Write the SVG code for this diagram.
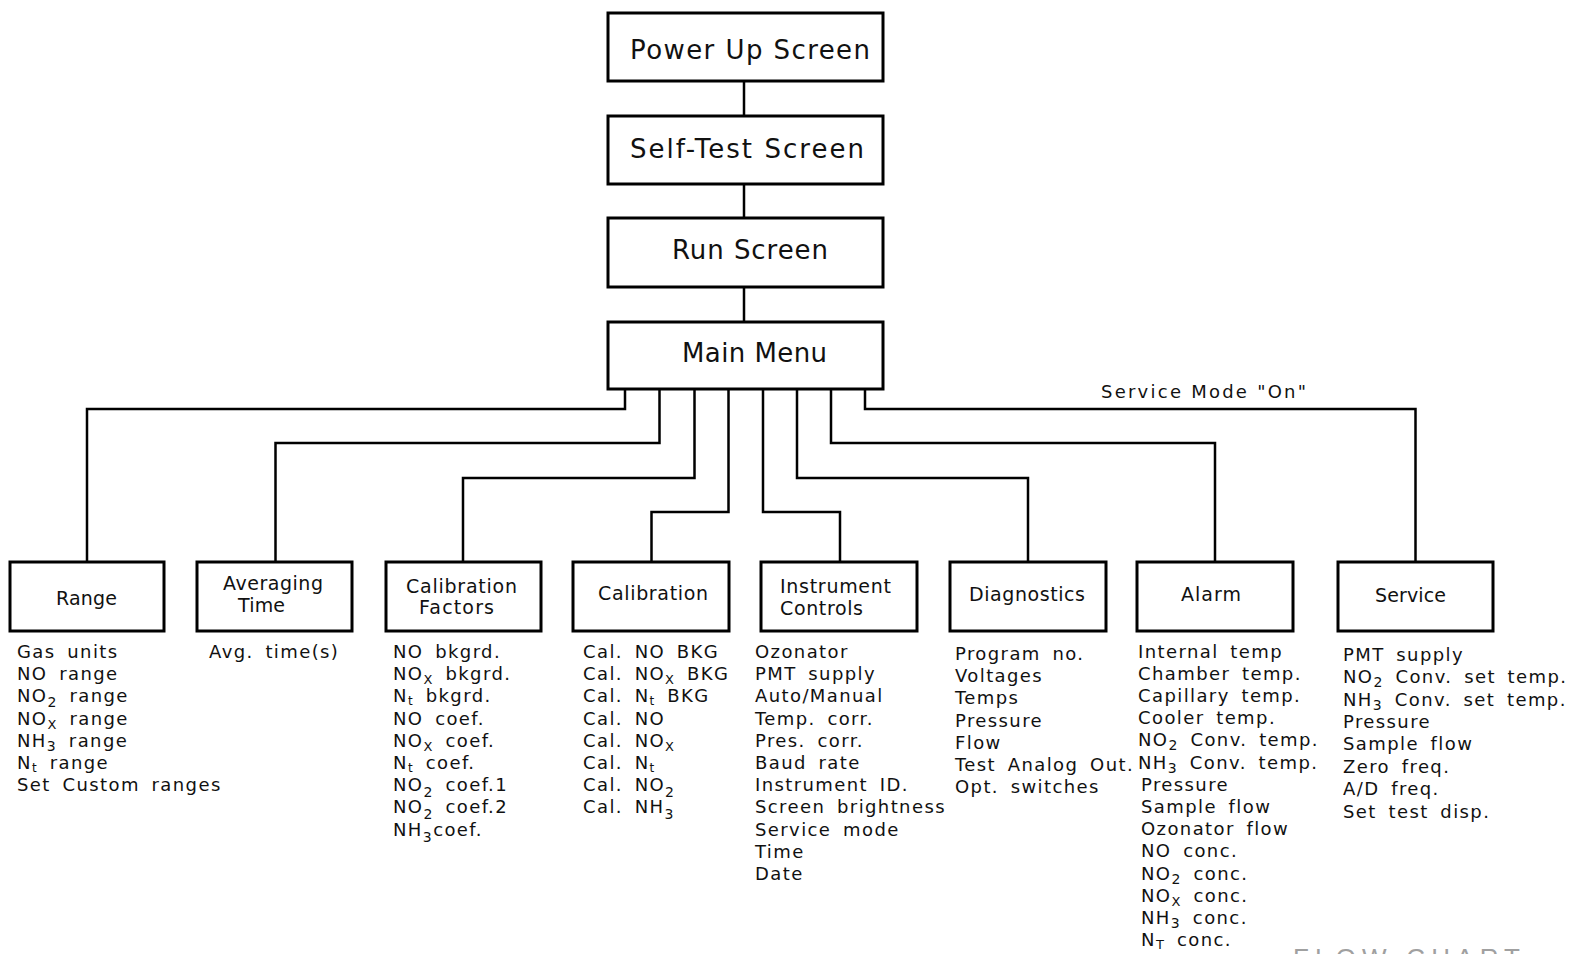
<svg xmlns="http://www.w3.org/2000/svg" width="1572" height="954" viewBox="0 0 1572 954">
<style>
.box{fill:#fff;stroke:#000;stroke-width:3}
.con{fill:none;stroke:#000;stroke-width:2.5;stroke-linejoin:miter;stroke-linecap:square}
.t{font-family:"DejaVu Sans",sans-serif;fill:#111}
.big{font-size:26px}
.lbl{font-size:19px}
.lst{font-size:18px;letter-spacing:1.4px;word-spacing:4.6px}
.note{font-size:18px}
.fc{font-family:"Liberation Sans",sans-serif;font-size:26px;fill:#a0a0a0}
</style>
<rect width="1572" height="954" fill="#fff"/>
<g id="connectors">
<path class="con" d="M744 81V116M744 184V218M744 287V322"/>
<path class="con" d="M625 389V409H87V562"/>
<path class="con" d="M659.5 389V443H275.5V562"/>
<path class="con" d="M694.5 389V478H463V562"/>
<path class="con" d="M728.5 389V512H651.5V562"/>
<path class="con" d="M763 389V512H840V562"/>
<path class="con" d="M797 389V478H1028V562"/>
<path class="con" d="M831 389V443H1215V562"/>
<path class="con" d="M865 389V409H1415.5V562"/>
<text class="t note" x="1101" y="398" textLength="205" lengthAdjust="spacing">Service Mode "On"</text>
</g>
<g id="power-up">
<rect class="box" x="608" y="13" width="275" height="68"/>
<text class="t big" x="630" y="59" textLength="240" lengthAdjust="spacing">Power Up Screen</text>
</g>
<g id="self-test">
<rect class="box" x="608" y="116" width="275" height="68"/>
<text class="t big" x="630" y="158" textLength="234" lengthAdjust="spacing">Self-Test Screen</text>
</g>
<g id="run-screen">
<rect class="box" x="608" y="218" width="275" height="69"/>
<text class="t big" x="672" y="259" textLength="156" lengthAdjust="spacing">Run Screen</text>
</g>
<g id="main-menu">
<rect class="box" x="608" y="322" width="275" height="67"/>
<text class="t big" x="682" y="362" textLength="145" lengthAdjust="spacing">Main Menu</text>
</g>
<g id="range">
<rect class="box" x="10" y="562" width="154" height="69"/>
<text class="t lbl" x="56" y="605" textLength="61" lengthAdjust="spacing">Range</text>
<g class="t lst">
<text x="17" y="658">Gas units</text>
<text x="17" y="680.2">NO range</text>
<text x="17" y="702.4">NO<tspan dy="5" font-size="14">2</tspan><tspan dy="-5"> range</tspan></text>
<text x="17" y="724.6">NO<tspan dy="4" font-size="13">X</tspan><tspan dy="-4"> range</tspan></text>
<text x="17" y="746.8">NH<tspan dy="4" font-size="14">3</tspan><tspan dy="-4"> range</tspan></text>
<text x="17" y="769">N<tspan dy="3" font-size="12">t</tspan><tspan dy="-3"> range</tspan></text>
<text x="17" y="791.2">Set Custom ranges</text>
</g>
</g>
<g id="averaging-time">
<rect class="box" x="197" y="562" width="155" height="69"/>
<text class="t lbl" x="223" y="590" textLength="100" lengthAdjust="spacing">Averaging</text>
<text class="t lbl" x="238" y="611.5" textLength="47" lengthAdjust="spacing">Time</text>
<text class="t lst" x="209" y="658">Avg. time(s)</text>
</g>
<g id="calibration-factors">
<rect class="box" x="386" y="562" width="155" height="69"/>
<text class="t lbl" x="406" y="592.5" textLength="111" lengthAdjust="spacing">Calibration</text>
<text class="t lbl" x="419" y="614" textLength="75" lengthAdjust="spacing">Factors</text>
<g class="t lst">
<text x="393" y="658">NO bkgrd.</text>
<text x="393" y="680.2">NO<tspan dy="4" font-size="13">X</tspan><tspan dy="-4"> bkgrd.</tspan></text>
<text x="393" y="702.4">N<tspan dy="3" font-size="12">t</tspan><tspan dy="-3"> bkgrd.</tspan></text>
<text x="393" y="724.6">NO coef.</text>
<text x="393" y="746.8">NO<tspan dy="4" font-size="13">X</tspan><tspan dy="-4"> coef.</tspan></text>
<text x="393" y="769">N<tspan dy="3" font-size="12">t</tspan><tspan dy="-3"> coef.</tspan></text>
<text x="393" y="791.2">NO<tspan dy="6" font-size="14">2</tspan><tspan dy="-6"> coef.1</tspan></text>
<text x="393" y="813.4">NO<tspan dy="6" font-size="14">2</tspan><tspan dy="-6"> coef.2</tspan></text>
<text x="393" y="835.6">NH<tspan dy="6" font-size="14">3</tspan><tspan dy="-6">coef.</tspan></text>
</g>
</g>
<g id="calibration">
<rect class="box" x="573" y="562" width="156" height="69"/>
<text class="t lbl" x="598" y="600" textLength="110" lengthAdjust="spacing">Calibration</text>
<g class="t lst">
<text x="583" y="658">Cal. NO BKG</text>
<text x="583" y="680.2">Cal. NO<tspan dy="4" font-size="13">X</tspan><tspan dy="-4"> BKG</tspan></text>
<text x="583" y="702.4">Cal. N<tspan dy="3" font-size="12">t</tspan><tspan dy="-3"> BKG</tspan></text>
<text x="583" y="724.6">Cal. NO</text>
<text x="583" y="746.8">Cal. NO<tspan dy="4" font-size="13">X</tspan></text>
<text x="583" y="769">Cal. N<tspan dy="3" font-size="12">t</tspan></text>
<text x="583" y="791.2">Cal. NO<tspan dy="6" font-size="14">2</tspan></text>
<text x="583" y="813.4">Cal. NH<tspan dy="6" font-size="14">3</tspan></text>
</g>
</g>
<g id="instrument-controls">
<rect class="box" x="761" y="562" width="156" height="69"/>
<text class="t lbl" x="780" y="593.3" textLength="111" lengthAdjust="spacing">Instrument</text>
<text class="t lbl" x="780" y="615" textLength="83" lengthAdjust="spacing">Controls</text>
<g class="t lst">
<text x="755" y="658">Ozonator</text>
<text x="755" y="680.2">PMT supply</text>
<text x="755" y="702.4">Auto/Manual</text>
<text x="755" y="724.6">Temp. corr.</text>
<text x="755" y="746.8">Pres. corr.</text>
<text x="755" y="769">Baud rate</text>
<text x="755" y="791.2">Instrument ID.</text>
<text x="755" y="813.4">Screen brightness</text>
<text x="755" y="835.6">Service mode</text>
<text x="755" y="857.8">Time</text>
<text x="755" y="880">Date</text>
</g>
</g>
<g id="diagnostics">
<rect class="box" x="950" y="562" width="156" height="69"/>
<text class="t lbl" x="969" y="600.7" textLength="116" lengthAdjust="spacing">Diagnostics</text>
<g class="t lst">
<text x="955" y="660">Program no.</text>
<text x="955" y="682.2">Voltages</text>
<text x="955" y="704.4">Temps</text>
<text x="955" y="726.6">Pressure</text>
<text x="955" y="748.8">Flow</text>
<text x="955" y="771">Test Analog Out.</text>
<text x="955" y="793.2">Opt. switches</text>
</g>
</g>
<g id="alarm">
<rect class="box" x="1137" y="562" width="156" height="69"/>
<text class="t lbl" x="1181" y="600.7" textLength="60" lengthAdjust="spacing">Alarm</text>
<g class="t lst">
<text x="1138" y="657.5">Internal temp</text>
<text x="1138" y="679.7">Chamber temp.</text>
<text x="1138" y="701.9">Capillary temp.</text>
<text x="1138" y="724.1">Cooler temp.</text>
<text x="1138" y="746.3">NO<tspan dy="4" font-size="14">2</tspan><tspan dy="-4"> Conv. temp.</tspan></text>
<text x="1138" y="768.5">NH<tspan dy="4" font-size="14">3</tspan><tspan dy="-4"> Conv. temp.</tspan></text>
<text x="1141" y="790.7">Pressure</text>
<text x="1141" y="812.9">Sample flow</text>
<text x="1141" y="835.1">Ozonator flow</text>
<text x="1141" y="857.3">NO conc.</text>
<text x="1141" y="879.5">NO<tspan dy="4" font-size="14">2</tspan><tspan dy="-4"> conc.</tspan></text>
<text x="1141" y="901.7">NO<tspan dy="4" font-size="13">X</tspan><tspan dy="-4"> conc.</tspan></text>
<text x="1141" y="923.9">NH<tspan dy="4" font-size="14">3</tspan><tspan dy="-4"> conc.</tspan></text>
<text x="1141" y="946.1">N<tspan dy="3" font-size="13">T</tspan><tspan dy="-3"> conc.</tspan></text>
</g>
</g>
<g id="service">
<rect class="box" x="1338" y="562" width="155" height="69"/>
<text class="t lbl" x="1375" y="602" textLength="71" lengthAdjust="spacing">Service</text>
<g class="t lst">
<text x="1343" y="660.7">PMT supply</text>
<text x="1343" y="683.1">NO<tspan dy="4" font-size="14">2</tspan><tspan dy="-4"> Conv. set temp.</tspan></text>
<text x="1343" y="705.5">NH<tspan dy="4" font-size="14">3</tspan><tspan dy="-4"> Conv. set temp.</tspan></text>
<text x="1343" y="727.9">Pressure</text>
<text x="1343" y="750.3">Sample flow</text>
<text x="1343" y="772.7">Zero freq.</text>
<text x="1343" y="795.1">A/D freq.</text>
<text x="1343" y="817.5">Set test disp.</text>
</g>
</g>
<text class="fc" x="1293" y="967" textLength="227" lengthAdjust="spacing">FLOW CHART</text>
</svg>
